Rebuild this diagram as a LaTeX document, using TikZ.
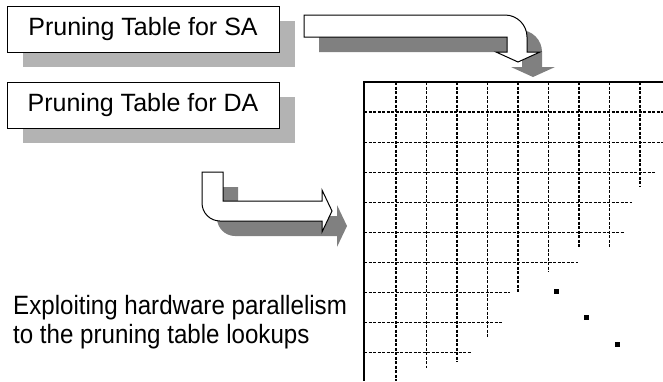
\documentclass[tikz,border=0pt]{standalone}
\usepackage{fontspec}
\newfontfamily\tablefont{Liberation Sans}
\newfontfamily\notefont[FakeStretch=0.91]{Liberation Sans}
\usetikzlibrary{shadows}
\definecolor{BoxShade}{RGB}{179,179,179}
\definecolor{ArrowShade}{RGB}{128,128,128}

\tikzset{
  tablebox/.style={draw, line width=0.9pt, fill=white,
    minimum width=272pt, minimum height=46pt, inner sep=0pt,
    font=\tablefont\fontsize{25}{30}\selectfont,
    general shadow={shadow xshift=16pt, shadow yshift=-15pt, fill=BoxShade}},
  bentarrow/.style={draw, line width=1pt, fill=white,
    general shadow={shadow xshift=15pt, shadow yshift=-15pt, fill=ArrowShade}},
  gridline/.style={line width=1.1pt, dash pattern=on 3pt off 1.5pt},
  frameline/.style={line width=1.7pt},
  cellmark/.style={fill=black, minimum size=5pt, inner sep=0pt}
}

\begin{document}
\begin{tikzpicture}[x=1pt, y=-1pt]
  \useasboundingbox (0,0) rectangle (663,381);

  % the two pruning tables
  \node[tablebox] (satable) at (143,29) {Pruning Table for SA};
  \node[tablebox] (datable) at (143,105) {Pruning Table for DA};

  % bent arrow: SA table down onto the grid
  \draw[bentarrow] (304,15) -- (505,15) .. controls (517.1,15) and (527,24.9) .. (527,37)
    -- (527,52) -- (540,52) -- (518,62) -- (496,52) -- (507,52) -- (507,37) -- (304,37) -- cycle;

  % bent arrow: DA table across to the grid
  \draw[bentarrow] (202,172) -- (223,172) -- (223,201) -- (322,201) -- (322,190) -- (332,211)
    -- (322,232) -- (322,221) -- (220,221) .. controls (210.1,221) and (202,212.9) .. (202,203) -- cycle;

  % dashed cells, ragged towards the lower right
  \foreach \x/\ylow in {396/381, 426.5/368, 457/362, 487.5/338, 518/293,
                        548.5/272, 579/248, 609.5/248, 640/186}{
    \draw[gridline] (\x,82) -- (\x,\ylow);
  }
  \foreach \y/\xhigh in {112/663, 142.1/663, 172.2/656, 202.3/632, 232.4/625,
                         262.5/578, 292.6/510, 322.7/503, 352.8/471}{
    \draw[gridline] (364,\y) -- (\xhigh,\y);
  }

  % frame of the grid
  \draw[frameline] (663,82) -- (364,82) -- (364,381);

  % diagonal dots
  \node[cellmark] (dot1) at (556,291) {};
  \node[cellmark] (dot2) at (586,317) {};
  \node[cellmark] (dot3) at (617,344) {};

  % caption on the left (base sits on the second line)
  \node[anchor=base west, align=left, inner sep=0pt,
    font=\notefont\fontsize{26.5}{29}\selectfont] (lookups) at (13,343)
    {Exploiting hardware parallelism\\to the pruning table lookups};
\end{tikzpicture}
\end{document}
